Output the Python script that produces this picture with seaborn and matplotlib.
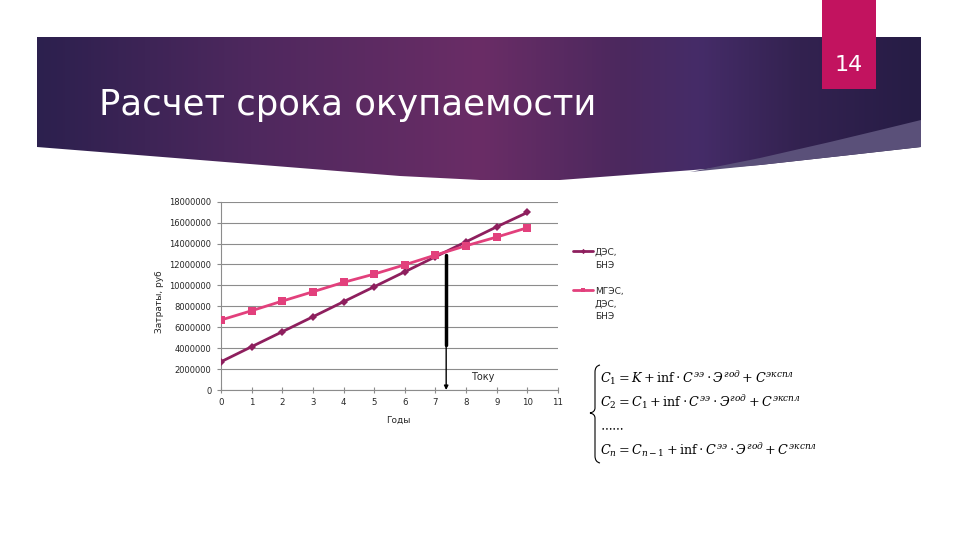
import numpy as np
import pandas as pd
import matplotlib
matplotlib.use('Agg')
import matplotlib.pyplot as plt
import seaborn as sns
from matplotlib.path import Path
from matplotlib.patches import PathPatch, Polygon, Rectangle

# data
years = list(range(11))
des_bne = [2.70e6, 4.14e6, 5.57e6, 7.00e6, 8.44e6, 9.87e6,
           11.30e6, 12.74e6, 14.17e6, 15.60e6, 16.97e6]
mges_des_bne = [6.69e6, 7.58e6, 8.50e6, 9.39e6, 10.29e6, 11.08e6,
                11.97e6, 12.90e6, 13.79e6, 14.62e6, 15.51e6]
series_names = ['ДЭС,\nБНЭ', 'МГЭС,\nДЭС,\nБНЭ']
x_ticks = list(range(0, 12))
y_ticks = list(range(0, 18000001, 2000000))
t_oku = 7.35          # payback point, years
t_oku_top = 12.95e6
t_oku_thick_end = 4.3e6
t_oku_label = 'Току'
title = 'Расчет срока окупаемости'
slide_no = '14'
formula_lines = [
    r'$C_1 = K + \mathrm{inf}\cdot C^{ээ}\cdot Э^{год} + C^{экспл}$',
    r'$C_2 = C_1 + \mathrm{inf}\cdot C^{ээ}\cdot Э^{год} + C^{экспл}$',
    r'$\cdots\cdots$',
    r'$C_n = C_{n-1} + \mathrm{inf}\cdot C^{ээ}\cdot Э^{год} + C^{экспл}$',
]

df = pd.DataFrame({
    'year': years * 2,
    'cost': des_bne + mges_des_bne,
    'series': [series_names[0]] * len(years) + [series_names[1]] * len(years),
})

sns.set_theme(style='white')
plt.rcParams['font.family'] = ['DejaVu Sans']
plt.rcParams['mathtext.fontset'] = 'dejavuserif'

fig = plt.figure(figsize=(9.6, 5.4), dpi=100)
fig.patch.set_facecolor('white')

# ---- slide background (pixel coords) ----
bg = fig.add_axes([0, 0, 1, 1])
bg.axis('off')

banner_pts = [(37, 37), (921, 37), (921, 147), (850, 155), (760, 165), (640, 174),
              (560, 180), (480, 180), (400, 176), (300, 168), (200, 160),
              (100, 152), (37, 147)]
banner = Polygon(banner_pts, closed=True, facecolor='none', edgecolor='none',
                 transform=bg.transData)
bg.add_patch(banner)

xs = np.linspace(37, 921, 400)
stops = [37, 250, 480, 620, 700, 800, 921]
cols = np.array([[0x2c, 0x20, 0x4e], [0x4e, 0x28, 0x5e], [0x6a, 0x2d, 0x66],
                 [0x4c, 0x28, 0x5e], [0x45, 0x2c, 0x68], [0x33, 0x22, 0x50],
                 [0x26, 0x1c, 0x45]]) / 255.0
grad = np.stack([np.interp(xs, stops, cols[:, i]) for i in range(3)], axis=-1)[None, :, :]
im = bg.imshow(grad, extent=(37, 921, 190, 37), aspect='auto', zorder=1)
im.set_clip_path(banner)

wedge_pts = [(690, 172), (760, 158), (830, 142), (880, 130), (921, 120),
             (921, 147), (850, 155), (760, 165)]
bg.add_patch(Polygon(wedge_pts, closed=True, facecolor='#5a5079', edgecolor='none', zorder=2))

bg.add_patch(Rectangle((822, 0), 54, 89, facecolor='#c2135f', edgecolor='none', zorder=3))
bg.text(849, 65, slide_no, color='white', fontsize=16, ha='center', va='center', zorder=4)
bg.text(99, 105, title, color='white', fontsize=25.5, ha='left', va='center', zorder=4)

# formula block with a curly brace
brace = Path([(600, 365), (595, 366), (595, 372), (595, 408), (595, 412), (590, 413),
              (595, 414), (595, 418), (595, 456), (595, 462), (600, 463)],
             [Path.MOVETO, Path.CURVE3, Path.CURVE3, Path.LINETO, Path.CURVE3, Path.CURVE3,
              Path.CURVE3, Path.CURVE3, Path.LINETO, Path.CURVE3, Path.CURVE3])
bg.add_patch(PathPatch(brace, facecolor='none', edgecolor='black', lw=0.8, zorder=3))
for yy, line in zip([378, 402, 427, 450], formula_lines):
    bg.text(600, yy, line, fontsize=9.2, ha='left', va='center', color='black', zorder=3)

bg.set_xlim(0, 960)
bg.set_ylim(540, 0)

# ---- chart ----
ax = fig.add_axes([221 / 960, 1 - 390 / 540, (558 - 221) / 960, (390 - 201.7) / 540])
ax.set_facecolor('none')
palette = {series_names[0]: '#8e1f5e', series_names[1]: '#e2407c'}
markers = {series_names[0]: 'D', series_names[1]: 's'}
sns.lineplot(data=df, x='year', y='cost', hue='series', style='series',
             palette=palette, markers=markers, dashes=False, linewidth=2,
             markersize=6, markeredgewidth=0, ax=ax, zorder=3)
for line in ax.lines:
    if line.get_marker() == 'D':
        line.set_markersize(4.5)

ax.plot([t_oku, t_oku], [t_oku_thick_end, t_oku_top], color='black', lw=2.5, zorder=4)
ax.annotate('', xy=(t_oku, 0), xytext=(t_oku, t_oku_thick_end),
            arrowprops=dict(arrowstyle='-|>', lw=1, color='black', mutation_scale=6,
                            shrinkA=0, shrinkB=0), zorder=4)
ax.text(8.55, 1.27e6, t_oku_label, fontsize=7, ha='center', va='center')

ax.set_xlim(0, 11)
ax.set_ylim(0, 18e6)
ax.set_xticks(x_ticks)
ax.set_xticklabels([str(v) for v in x_ticks])
ax.set_yticks(y_ticks)
ax.set_yticklabels([str(v) for v in y_ticks])
ax.yaxis.grid(True, color='#8c8c8c', lw=0.8)
ax.xaxis.grid(False)
for s in ['top', 'right']:
    ax.spines[s].set_visible(False)
for s in ['left', 'bottom']:
    ax.spines[s].set_color('#8c8c8c')
    ax.spines[s].set_linewidth(0.8)
ax.tick_params(axis='x', direction='inout', length=4, width=0.8, color='#8c8c8c',
               labelsize=6.2, pad=4, bottom=True)
ax.tick_params(axis='y', direction='out', length=3, width=0.8, color='#8c8c8c',
               labelsize=6, pad=4, left=True)
ax.set_xlabel('Годы', fontsize=6.5)
ax.set_ylabel('Затраты, руб', fontsize=6.5)
ax.xaxis.set_label_coords(0.525, -0.14)
ax.yaxis.set_label_coords(-0.17, 0.467)

handles, labels = ax.get_legend_handles_labels()
leg = ax.legend(handles, labels, loc='upper left', bbox_to_anchor=(565 / 960, 1 - 240 / 540),
                bbox_transform=fig.transFigure, frameon=False, fontsize=6.5,
                handlelength=2.2, handletextpad=0.2, labelspacing=1.85, markerscale=0.6)
for txt in leg.get_texts():
    txt.set_linespacing(1.55)
# put each legend marker next to the first line of its label
for col in leg._legend_handle_box.get_children():
    for item in col.get_children():
        item.align = 'top'

fig.savefig('out.png', dpi=100, facecolor='white')
